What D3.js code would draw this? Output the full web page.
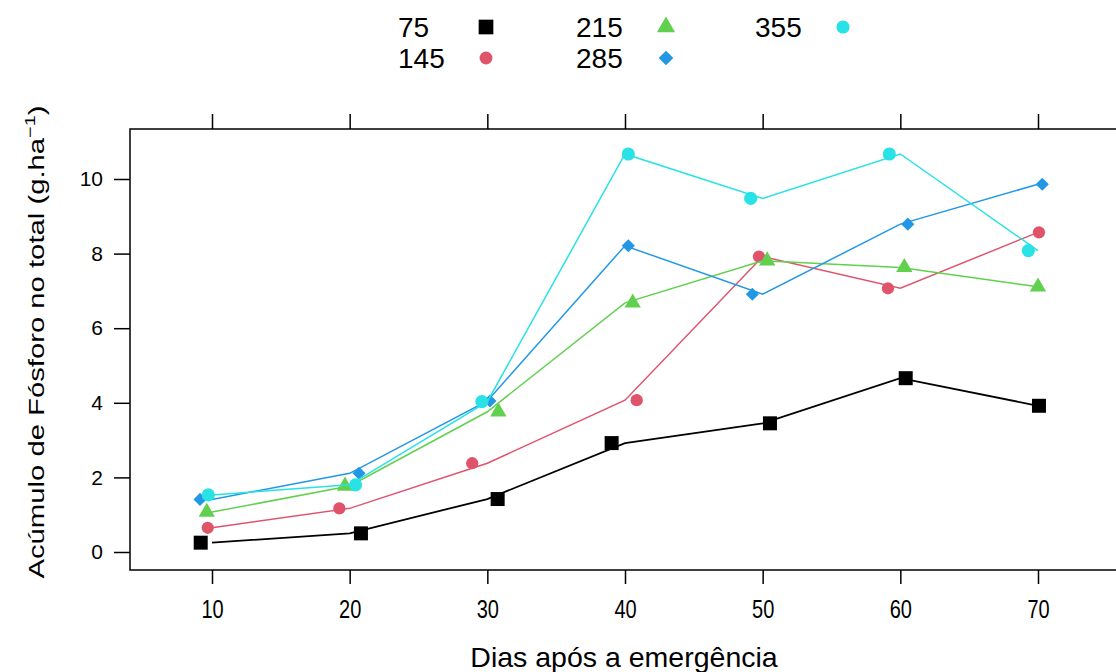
<!DOCTYPE html>
<html>
<head>
<meta charset="utf-8">
<script src="https://cdn.jsdelivr.net/npm/d3@7"></script>
<style>
  html, body { margin: 0; padding: 0; background: #fff; }
  svg { display: block; font-family: "Liberation Sans", Arial, sans-serif; }
</style>
</head>
<body>
<svg id="chart" width="1116" height="672"></svg>
<script>
// ---- data ----
const days = [10, 20, 30, 40, 50, 60, 70];
const xTicks = [10, 20, 30, 40, 50, 60, 70];
const yTicks = [0, 2, 4, 6, 8, 10];
const seriesNames = ["75", "145", "215", "285", "355"];
const seriesColors = ["#000000", "#DF536B", "#61D04F", "#2297E6", "#28E2E5"];
// accumulated values per dose
const y75  = [0.25, 0.50, 1.42, 2.92, 3.45, 4.66, 3.92];
const y145 = [0.65, 1.17, 2.38, 4.07, 7.92, 7.07, 8.57];
const y215 = [1.07, 1.77, 3.76, 6.68, 7.81, 7.63, 7.11];
const y285 = [1.41, 2.11, 4.05, 8.21, 6.91, 8.79, 9.86];
const y355 = [1.53, 1.80, 4.03, 10.67, 9.48, 10.67, 8.08];
// jittered x positions of the points (lines use the true days)
const xj75  = [9.18, 20.82, 30.75, 39.03, 50.53, 60.39, 70.07];
const xj145 = [9.69, 19.25, 28.90, 40.85, 49.73, 59.10, 70.07];
const xj215 = [9.62, 19.66, 30.80, 40.56, 50.33, 60.29, 70.00];
const xj285 = [9.13, 20.68, 30.19, 40.24, 49.25, 60.54, 70.31];
const xj355 = [9.73, 20.43, 29.60, 40.24, 49.13, 59.20, 69.30];

const xLabel = "Dias após a emergência";
const yLabelMain = "Acúmulo de Fósforo no total (g.ha";
const yLabelSup = "−1";
const yLabelEnd = ")";

const seriesY = [y75, y145, y215, y285, y355];
const seriesXJ = [xj75, xj145, xj215, xj285, xj355];

// ---- layout ----
const svg = d3.select("#chart");
const panel = { left: 130, right: 1120, top: 129, bottom: 570 };
const x = d3.scaleLinear().domain([10, 70]).range([212, 1038]);
const y = d3.scaleLinear().domain([0, 10]).range([552, 179]);

// symbols
const symDefs = [
  { type: d3.symbolSquare, size: 196, rot: 0, leg: 1.1 },
  { type: d3.symbolCircle, size: 118, rot: 0, leg: 1.1 },
  { type: d3.symbolTriangle, size: 115, rot: 0, leg: 1.25 },
  { type: d3.symbolSquare, size: 86, rot: 45, leg: 1.25 },
  { type: d3.symbolCircle, size: 136, rot: 0, leg: 1.0 }
];

// panel box
svg.append("rect")
  .attr("x", panel.left).attr("y", panel.top)
  .attr("width", panel.right - panel.left).attr("height", panel.bottom - panel.top)
  .attr("fill", "none").attr("stroke", "#000").attr("stroke-width", 1.5);

// axes
const gLeft = svg.append("g").attr("transform", `translate(${panel.left},0)`)
  .call(d3.axisLeft(y).tickValues(yTicks).tickSize(16).tickPadding(11).tickFormat(d3.format("d")));
gLeft.select(".domain").remove();
gLeft.selectAll("line").attr("stroke-width", 1.5);
gLeft.selectAll("text").attr("font-size", 21).attr("font-family", "Liberation Sans, Arial, sans-serif").attr("fill", "#000");

const gBottom = svg.append("g").attr("transform", `translate(0,${panel.bottom})`)
  .call(d3.axisBottom(x).tickValues(xTicks).tickSize(14).tickPadding(16).tickFormat(d3.format("d")));
gBottom.select(".domain").remove();
gBottom.selectAll("line").attr("stroke-width", 1.5);
gBottom.selectAll(".tick text")
  .attr("font-size", 25).attr("font-family", "Liberation Sans, Arial, sans-serif").attr("fill", "#000")
  .attr("transform", "scale(0.8,1)");

const gTop = svg.append("g").attr("transform", `translate(0,${panel.top})`)
  .call(d3.axisTop(x).tickValues(xTicks).tickSize(15).tickFormat(""));
gTop.select(".domain").remove();
gTop.selectAll("line").attr("stroke-width", 1.5);

// clip region for the data
svg.append("clipPath").attr("id", "clip").append("rect")
  .attr("x", panel.left).attr("y", panel.top)
  .attr("width", panel.right - panel.left).attr("height", panel.bottom - panel.top);
const plot = svg.append("g").attr("clip-path", "url(#clip)");

const line = d3.line().x((d, i) => x(days[i])).y(d => y(d));

seriesNames.forEach((name, s) => {
  const g = plot.append("g");
  const col = seriesColors[s];
  const sd = symDefs[s];
  // points (jittered)
  g.selectAll("path.pt").data(seriesY[s]).enter().append("path")
    .attr("class", "pt")
    .attr("d", d3.symbol().type(sd.type).size(sd.size))
    .attr("transform", (d, i) => `translate(${x(seriesXJ[s][i])},${y(d)}) rotate(${sd.rot})`)
    .attr("fill", col);
  // lines (true x)
  g.append("path").datum(seriesY[s])
    .attr("d", line)
    .attr("fill", "none").attr("stroke", col)
    .attr("stroke-width", s === 0 ? 1.8 : 1.5);
});

// legend
const legendPos = [
  { tx: 398, sx: 486, cy: 27 },
  { tx: 398, sx: 486, cy: 58 },
  { tx: 576, sx: 666, cy: 27 },
  { tx: 576, sx: 666, cy: 58 },
  { tx: 755, sx: 843, cy: 27 }
];
const leg = svg.append("g");
seriesNames.forEach((name, s) => {
  const p = legendPos[s];
  const sd = symDefs[s];
  leg.append("text").attr("x", p.tx).attr("y", p.cy + 10)
    .attr("font-size", 28).attr("fill", "#000").text(name);
  leg.append("path")
    .attr("d", d3.symbol().type(sd.type).size(sd.size * sd.leg))
    .attr("transform", `translate(${p.sx},${p.cy}) rotate(${sd.rot})`)
    .attr("fill", seriesColors[s]);
});

// axis titles
svg.append("text")
  .attr("x", 624).attr("y", 667)
  .attr("text-anchor", "middle").attr("font-size", 28.5).attr("fill", "#000")
  .text(xLabel);

const yt = svg.append("text")
  .attr("transform", "translate(44,342) rotate(-90) scale(1.33,1)")
  .attr("text-anchor", "middle").attr("font-size", 22).attr("fill", "#000");
yt.append("tspan").text(yLabelMain);
yt.append("tspan").attr("dy", -9).attr("font-size", 15).text(yLabelSup);
yt.append("tspan").attr("dy", 9).text(yLabelEnd);
</script>
</body>
</html>
